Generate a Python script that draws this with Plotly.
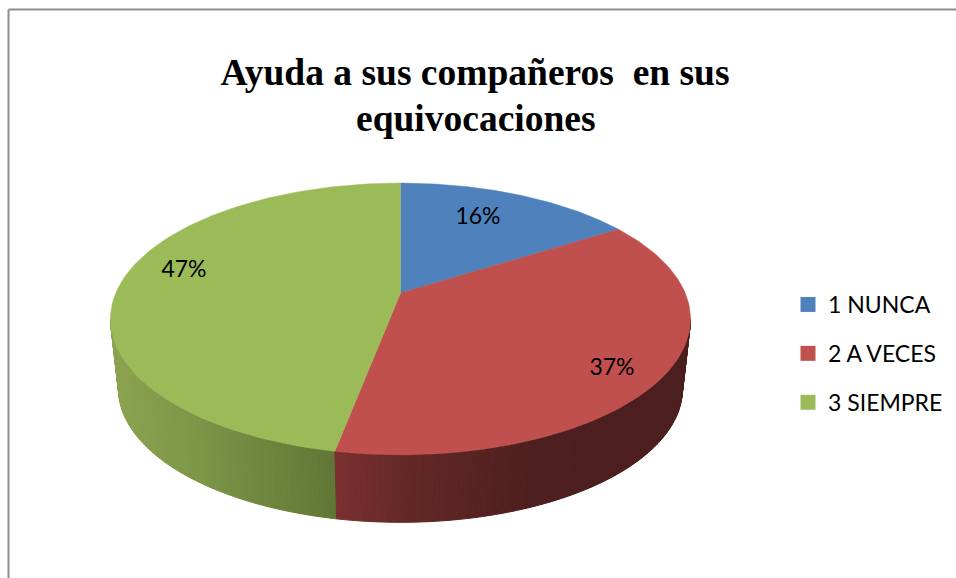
import numpy as np
import plotly.graph_objects as go

categories = ["1 NUNCA", "2 A VECES", "3 SIEMPRE"]
percentages = [16, 37, 47]
slice_colors = ["#4F81BD", "#C0504D", "#9BBB59"]
title_line_1 = "Ayuda a sus compañeros  en sus"
title_line_2 = "equivocaciones"

# projection of the pie disc on the page (pixel axes)
CX, APEX_Y, R, H, K = 400.5, 293.0, 284.7, 130.9, 0.191
TOP_CY, TOP_B, BOT_CY, BOT_B, BOT_SX = 319.0, 136.5, 389.0, 134.0, 0.972
VIS_RIGHT, VIS_LEFT = 101.0, 259.0
LABEL_XY = [(478, 218), (612, 369), (184, 271)]


def top_xy(theta_deg):
    t = np.radians(np.asarray(theta_deg, dtype=float))
    X, Y = np.sin(t), np.cos(t)
    w = 1 + K * Y
    return CX + R * X / w, APEX_Y - H * Y / w


def bottom_xy(theta_deg):
    x, y = top_xy(theta_deg)
    return CX + (x - CX) * BOT_SX, BOT_CY + (y - TOP_CY) * BOT_B / TOP_B


def shade(x, stops):
    xs = [s[0] for s in stops]
    rgb = [np.interp(x, xs, [s[1][i] for s in stops]) for i in range(3)]
    return "rgb(%d,%d,%d)" % tuple(int(round(c)) for c in rgb)


SIDE_STOPS = {
    1: [(335, (122, 48, 48)), (400, (101, 41, 39)), (530, (77, 31, 30)), (700, (75, 31, 30))],
    2: [(110, (140, 163, 80)), (200, (124, 149, 71)), (335, (97, 118, 54))],
}

fig = go.Figure()

edges = np.concatenate([[0], np.cumsum(percentages)]) * 3.6

# side wall, built from the slice angles
for i in (2, 1):
    a0 = max(edges[i], VIS_RIGHT)
    a1 = min(edges[i + 1], VIS_LEFT)
    steps = int(max(2, (a1 - a0) / 1.0))
    ang = np.linspace(a0, a1, steps + 1)
    for p, q in zip(ang[:-1], ang[1:]):
        tx, ty = top_xy([p, q])
        bx, by = bottom_xy([q, p])
        col = shade((tx.mean() + bx.mean()) / 2, SIDE_STOPS[i])
        fig.add_trace(go.Scatter(
            x=list(tx) + list(bx) + [tx[0]], y=list(ty) + list(by) + [ty[0]],
            mode="lines", fill="toself", fillcolor=col,
            line=dict(color=col, width=1), showlegend=False, hoverinfo="skip"))

# top face
for i, name in enumerate(categories):
    ang = np.linspace(edges[i], edges[i + 1], 121)
    x, y = top_xy(ang)
    fig.add_trace(go.Scatter(
        x=[CX] + list(x) + [CX], y=[APEX_Y] + list(y) + [APEX_Y],
        mode="lines", fill="toself", fillcolor=slice_colors[i],
        line=dict(color=slice_colors[i], width=0.5),
        name=name, showlegend=False, hoverinfo="skip"))

# data labels
fig.add_trace(go.Scatter(
    x=[p[0] for p in LABEL_XY], y=[p[1] for p in LABEL_XY],
    text=["%d%%" % v for v in percentages], mode="text",
    textposition="middle center",
    textfont=dict(family="Lato", size=23, color="#000000"),
    showlegend=False, hoverinfo="skip"))

# legend entries
for i, name in enumerate(categories):
    fig.add_trace(go.Scatter(
        x=[None], y=[None], mode="markers", name=name, legendgroup=name,
        marker=dict(symbol="square", size=15, color=slice_colors[i])))

fig.update_layout(
    width=956, height=578, margin=dict(l=0, r=0, t=0, b=0),
    paper_bgcolor="white", plot_bgcolor="white",
    xaxis=dict(range=[0, 956], visible=False, fixedrange=True),
    yaxis=dict(range=[578, 0], visible=False, fixedrange=True),
    title=dict(text=title_line_1, x=475 / 956, xanchor="center", xref="paper",
               y=1 - 59 / 578, yanchor="top",
               font=dict(family="Liberation Serif", size=37.5, color="#000000", weight="bold")),
    annotations=[dict(text=title_line_2, xref="x", yref="y", x=476, y=118,
                      xanchor="center", yanchor="middle", showarrow=False,
                      font=dict(family="Liberation Serif", size=37.5, color="#000000", weight="bold"))],
    legend=dict(x=788 / 956, xanchor="left", y=1 - 283 / 578, yanchor="top",
                tracegroupgap=16, bgcolor="rgba(0,0,0,0)",
                itemsizing="trace", itemwidth=30,
                font=dict(family="Lato", size=23, color="#000000")),
    shapes=[
        dict(type="line", x0=8.5, x1=8.5, y0=9.5, y1=578, line=dict(color="#8E8E8E", width=2)),
        dict(type="line", x0=8.5, x1=956, y0=9.5, y1=9.5, line=dict(color="#8E8E8E", width=2)),
    ],
)
fig.write_html("out.html", config={"displayModeBar": False},
               post_script="document.body.style.margin='0';document.body.style.overflow='hidden';")
